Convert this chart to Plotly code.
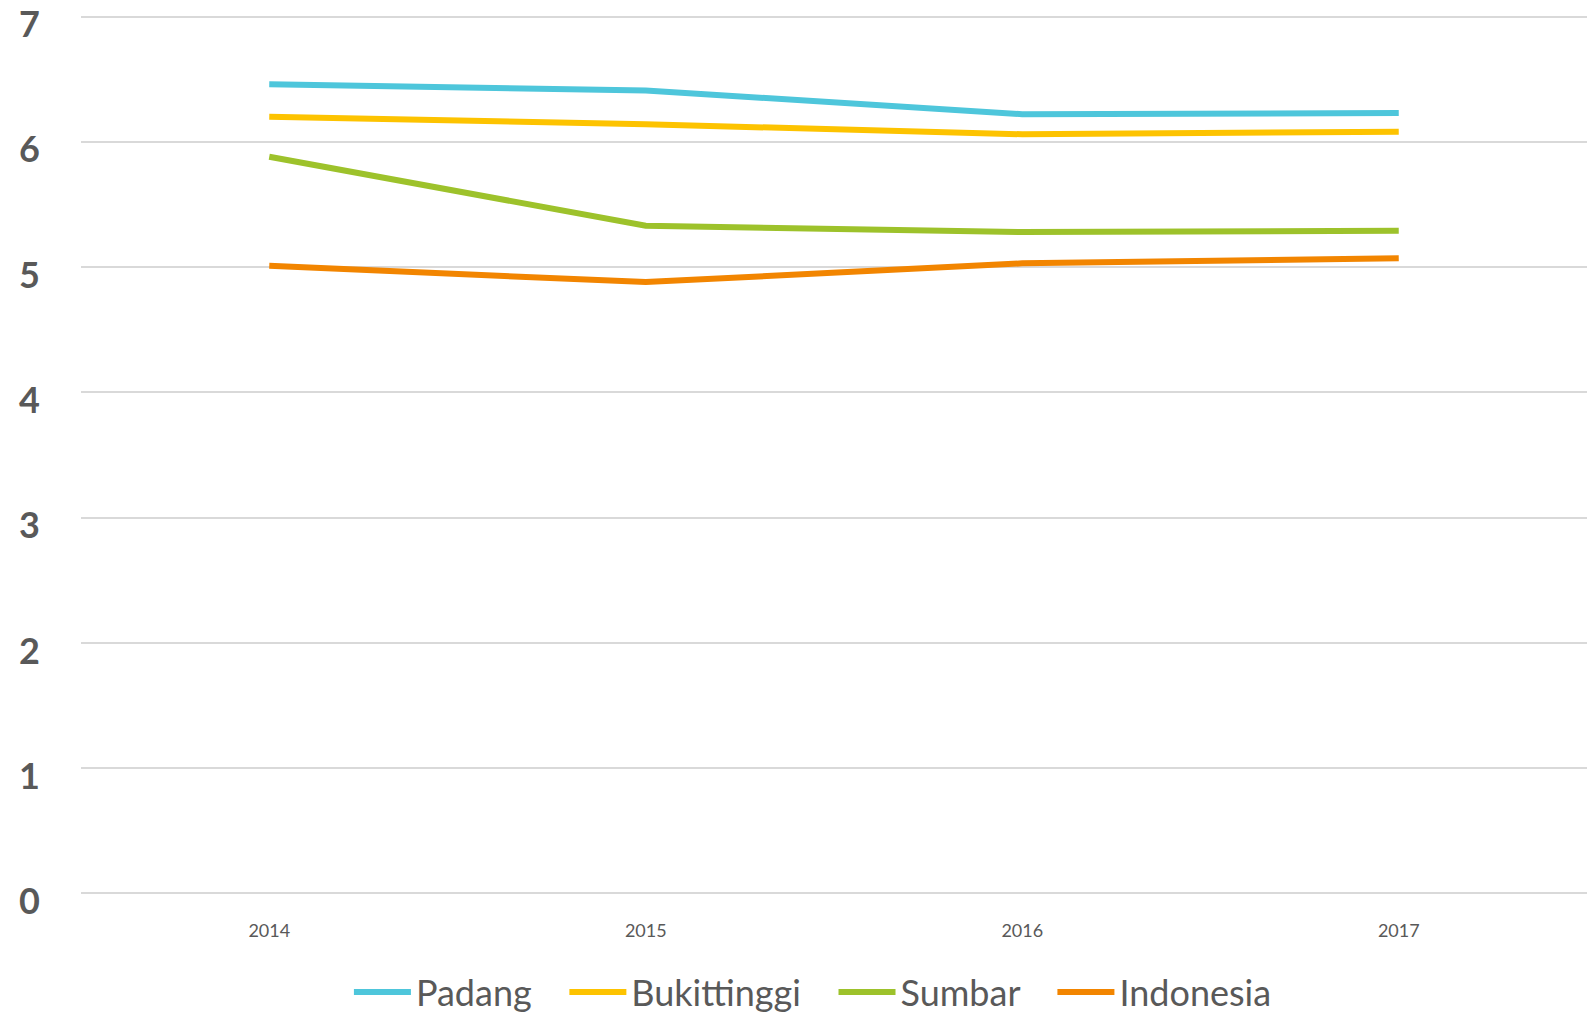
import plotly.graph_objects as go

years = ["2014", "2015", "2016", "2017"]
padang = [6.46, 6.41, 6.22, 6.23]
bukittinggi = [6.20, 6.14, 6.06, 6.08]
sumbar = [5.88, 5.33, 5.28, 5.29]
indonesia = [5.01, 4.88, 5.03, 5.07]

series = [
    ("Padang", padang, "#4EC6DB"),
    ("Bukittinggi", bukittinggi, "#FDC300"),
    ("Sumbar", sumbar, "#9DC22B"),
    ("Indonesia", indonesia, "#F28500"),
]

pad = "\u00a0" * 3
fig = go.Figure()
for i, (name, vals, color) in enumerate(series):
    fig.add_trace(go.Scatter(
        x=years, y=vals, name=name + (pad if i < len(series) - 1 else ""),
        mode="lines",
        line=dict(color=color, width=6),
    ))

fig.update_layout(
    width=1591, height=1015,
    paper_bgcolor="white", plot_bgcolor="white",
    margin=dict(l=81, r=4, t=13.5, b=118.5, autoexpand=False),
    font=dict(family="Lato, Open Sans, sans-serif", color="#595959"),
    showlegend=True,
    legend=dict(
        orientation="h", x=0.486, xanchor="center",
        yref="container", y=0.052, yanchor="top",
        font=dict(size=36, color="#595959"),
        itemwidth=57, tracegroupgap=0,
    ),
    xaxis=dict(
        type="category", range=[-0.5, 3.5],
        showgrid=False, zeroline=False, showline=False,
        ticks="", tickfont=dict(size=18, color="#595959"),
        ticklabelstandoff=22, automargin=False,
    ),
    yaxis=dict(
        range=[-0.02, 7.02], tickvals=[0, 1, 2, 3, 4, 5, 6, 7],
        showgrid=True, gridcolor="#D9D9D9", gridwidth=2,
        zeroline=False, showline=False, ticks="",
        tickfont=dict(size=36, color="#595959", weight="bold"),
        ticklabelstandoff=40, ticklabelshift=8, automargin=False,
        ticklabeloverflow="allow",
    ),
)

fig.write_html(
    "out.html",
    config={"displayModeBar": False},
    post_script="document.body.style.margin='0';document.body.style.overflow='hidden';",
)
